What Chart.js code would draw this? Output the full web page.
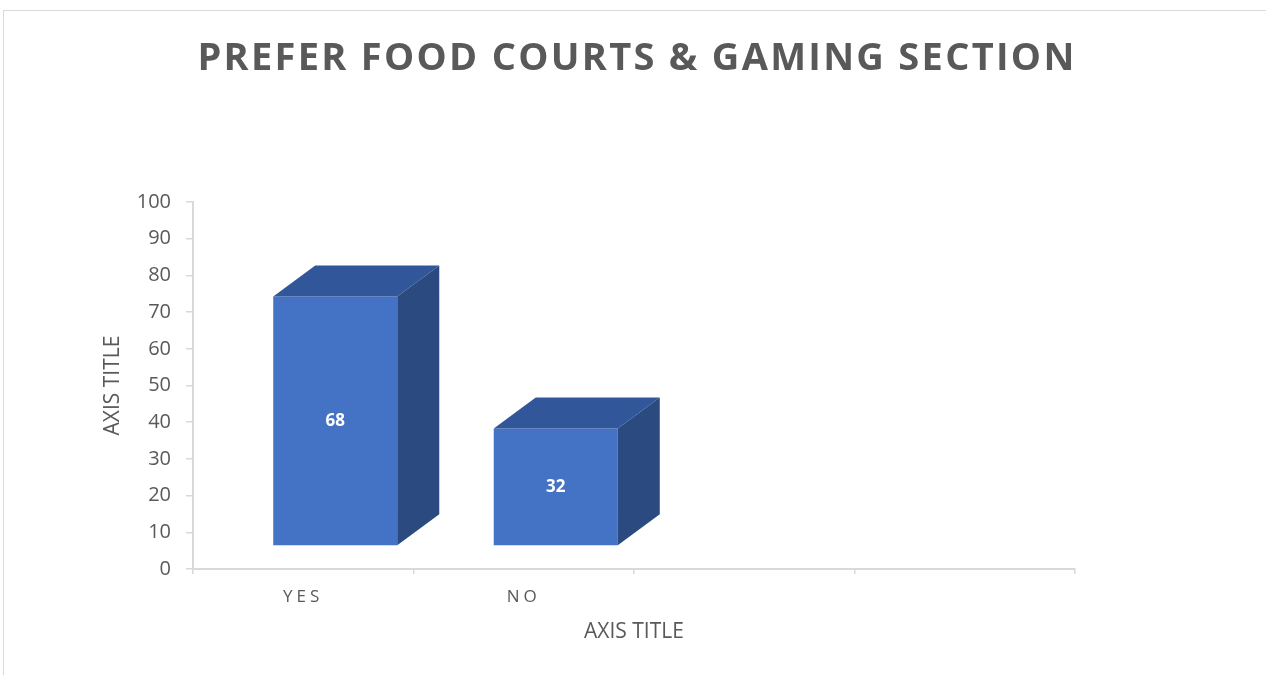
<!DOCTYPE html>
<html>
<head>
<meta charset="utf-8">
<script src="https://cdn.jsdelivr.net/npm/chart.js@4.4.1/dist/chart.umd.min.js"></script>
<style>
  html, body { margin: 0; padding: 0; background: #fff; overflow: hidden; }
  #wrap { position: relative; width: 1266px; height: 675px; }
</style>
</head>
<body>
<div id="wrap"><canvas id="chart" width="1266" height="675"></canvas></div>
<script>
const chartTitle = 'PREFER FOOD COURTS & GAMING SECTION';
const categories = ['YES', 'NO', '', ''];
const responses = [68, 32, null, null];
const yMin = 0;
const yMax = 100;
const yStep = 10;

const FONT = "'Open Sans', sans-serif";
const TEXT_COLOR = '#595959';
const AXIS_COLOR = '#D9D9D9';
const FRONT_COLOR = '#4472C4';
const TOP_COLOR = '#31579A';
const SIDE_COLOR = '#2A4A80';

// the front face of each column sits forward of the floor, the box recedes up/right
const FRONT_SHIFT = { x: 32, y: -23 };
const DEPTH = { x: 42, y: -31 };

const frame = {
  id: 'frame',
  beforeDraw(chart) {
    const ctx = chart.ctx;
    ctx.save();
    ctx.strokeStyle = AXIS_COLOR;
    ctx.lineWidth = 1;
    ctx.strokeRect(3.5, 10.5, chart.width + 20, chart.height + 20);
    ctx.restore();
  }
};

const columns3d = {
  id: 'columns3d',
  beforeDatasetsDraw(chart) {
    chart.ctx.save();
    chart.ctx.translate(FRONT_SHIFT.x, FRONT_SHIFT.y);
  },
  afterDatasetsDraw(chart) {
    const ctx = chart.ctx;
    chart.getDatasetMeta(0).data.forEach((bar, i) => {
      if (responses[i] == null) return;
      const { x, y, base, width } = bar.getProps(['x', 'y', 'base', 'width'], true);
      const l = x - width / 2;
      const r = x + width / 2;

      ctx.fillStyle = TOP_COLOR;
      ctx.beginPath();
      ctx.moveTo(l, y);
      ctx.lineTo(l + DEPTH.x, y + DEPTH.y);
      ctx.lineTo(r + DEPTH.x, y + DEPTH.y);
      ctx.lineTo(r, y);
      ctx.closePath();
      ctx.fill();

      ctx.fillStyle = SIDE_COLOR;
      ctx.beginPath();
      ctx.moveTo(r, y);
      ctx.lineTo(r + DEPTH.x, y + DEPTH.y);
      ctx.lineTo(r + DEPTH.x, base + DEPTH.y);
      ctx.lineTo(r, base);
      ctx.closePath();
      ctx.fill();

      ctx.fillStyle = '#FFFFFF';
      ctx.font = `bold 17px ${FONT}`;
      ctx.textAlign = 'center';
      ctx.textBaseline = 'middle';
      ctx.fillText(String(responses[i]), x, (y + base) / 2);
    });
    ctx.restore();
    // category labels are drawn after the datasets (ticks.z = 1), spaced out
    ctx.letterSpacing = '4px';
  },
  afterDraw(chart) {
    const ctx = chart.ctx;
    ctx.save();
    ctx.letterSpacing = '2.3px';
    ctx.fillStyle = TEXT_COLOR;
    ctx.font = `bold 38px ${FONT}`;
    ctx.textAlign = 'center';
    ctx.textBaseline = 'middle';
    ctx.fillText(chartTitle, 637, 59);
    ctx.restore();
    ctx.letterSpacing = '0px';
  }
};

new Chart(document.getElementById('chart'), {
  type: 'bar',
  data: {
    labels: categories,
    datasets: [{
      data: responses,
      backgroundColor: FRONT_COLOR,
      borderWidth: 0,
      barPercentage: 0.5625,
      categoryPercentage: 1,
      clip: false
    }]
  },
  options: {
    responsive: false,
    animation: false,
    events: [],
    layout: { padding: { top: 202, right: 191, bottom: 0, left: 0 } },
    plugins: {
      legend: { display: false },
      title: { display: false },
      tooltip: { enabled: false }
    },
    scales: {
      x: {
        afterFit(scale) { scale.height = 106; },
        grid: { drawOnChartArea: false, drawTicks: true, tickLength: 5, color: AXIS_COLOR, lineWidth: 1.5 },
        border: { color: AXIS_COLOR, width: 2 },
        ticks: { z: 1, color: TEXT_COLOR, font: { family: FONT, size: 17 }, padding: 13 },
        title: {
          display: true,
          text: 'AXIS TITLE',
          color: TEXT_COLOR,
          font: { family: FONT, size: 21 },
          padding: { top: 0, bottom: 30 }
        }
      },
      y: {
        min: yMin,
        max: yMax,
        afterFit(scale) { scale.width = 193; },
        grid: { drawOnChartArea: false, drawTicks: true, tickLength: 7, color: AXIS_COLOR, lineWidth: 1.5 },
        border: { color: AXIS_COLOR, width: 2 },
        ticks: { stepSize: yStep, color: TEXT_COLOR, font: { family: FONT, size: 20 }, padding: 15 },
        title: {
          display: true,
          text: 'AXIS TITLE',
          color: TEXT_COLOR,
          font: { family: FONT, size: 21 },
          padding: { top: 100, bottom: 0 }
        }
      }
    }
  },
  plugins: [frame, columns3d]
});
</script>
</body>
</html>
